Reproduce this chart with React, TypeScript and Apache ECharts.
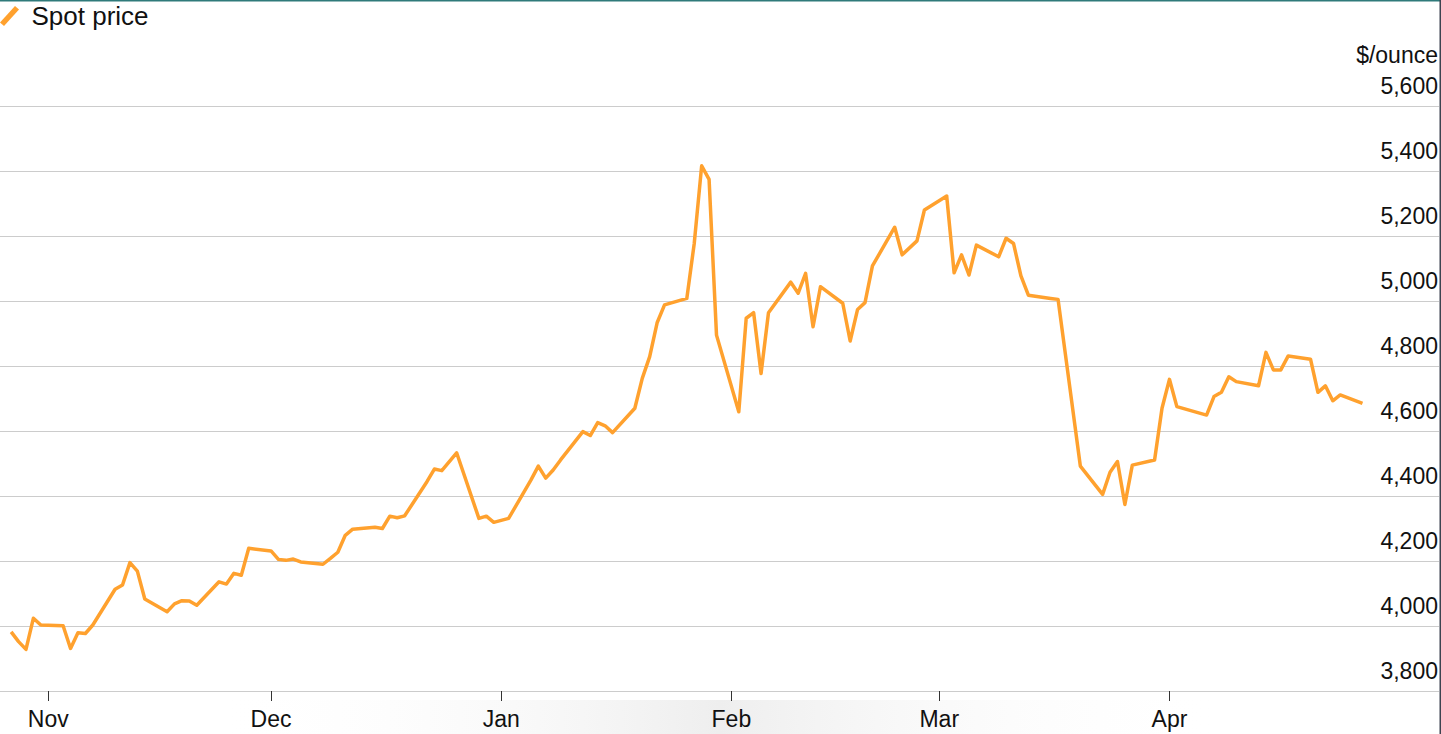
import React, { useEffect, useRef } from "react";
import * as echarts from "echarts";

const seriesName = "Spot price";
const unitLabel = "$/ounce";
const monthNames = ["Jan", "Feb", "Mar", "Apr", "May", "Jun", "Jul", "Aug", "Sep", "Oct", "Nov", "Dec"];

const dates: string[] = [
  "2025-10-27", "2025-10-28", "2025-10-29", "2025-10-30", "2025-10-31",
  "2025-11-03", "2025-11-04", "2025-11-05", "2025-11-06", "2025-11-07",
  "2025-11-10", "2025-11-11", "2025-11-12", "2025-11-13", "2025-11-14",
  "2025-11-17", "2025-11-18", "2025-11-19", "2025-11-20", "2025-11-21",
  "2025-11-24", "2025-11-25", "2025-11-26", "2025-11-27", "2025-11-28",
  "2025-12-01", "2025-12-02", "2025-12-03", "2025-12-04", "2025-12-05",
  "2025-12-08", "2025-12-09", "2025-12-10", "2025-12-11", "2025-12-12",
  "2025-12-15", "2025-12-16", "2025-12-17", "2025-12-18", "2025-12-19",
  "2025-12-22", "2025-12-23", "2025-12-24", "2025-12-26",
  "2025-12-29", "2025-12-30", "2025-12-31", "2026-01-02",
  "2026-01-05", "2026-01-06", "2026-01-07", "2026-01-08", "2026-01-09",
  "2026-01-12", "2026-01-13", "2026-01-14", "2026-01-15", "2026-01-16",
  "2026-01-19", "2026-01-20", "2026-01-21", "2026-01-22", "2026-01-23",
  "2026-01-26", "2026-01-27", "2026-01-28", "2026-01-29", "2026-01-30",
  "2026-02-02", "2026-02-03", "2026-02-04", "2026-02-05", "2026-02-06",
  "2026-02-09", "2026-02-10", "2026-02-11", "2026-02-12", "2026-02-13",
  "2026-02-16", "2026-02-17", "2026-02-18", "2026-02-19", "2026-02-20",
  "2026-02-23", "2026-02-24", "2026-02-26", "2026-02-27",
  "2026-03-02", "2026-03-03", "2026-03-04", "2026-03-05", "2026-03-06",
  "2026-03-09", "2026-03-10", "2026-03-11", "2026-03-12", "2026-03-13",
  "2026-03-16", "2026-03-17", "2026-03-20",
  "2026-03-23", "2026-03-24", "2026-03-25", "2026-03-26", "2026-03-27",
  "2026-03-30", "2026-03-31", "2026-04-01", "2026-04-02",
  "2026-04-06", "2026-04-07", "2026-04-08", "2026-04-09", "2026-04-10",
  "2026-04-13", "2026-04-14", "2026-04-15", "2026-04-16", "2026-04-17",
  "2026-04-20", "2026-04-21", "2026-04-22", "2026-04-23", "2026-04-24",
  "2026-04-27",
];

const prices: number[] = [
  3982, 3952, 3928, 4024, 4003,
  4001, 3931, 3979, 3977, 4003,
  4113, 4126, 4195, 4169, 4083,
  4044, 4068, 4078, 4077, 4064,
  4136, 4129, 4162, 4156, 4239,
  4231, 4205, 4202, 4206, 4197,
  4190, 4208, 4227, 4279, 4298,
  4304, 4300, 4338, 4333, 4339,
  4444, 4483, 4478, 4533,
  4331, 4338, 4319, 4331,
  4449, 4492, 4455, 4480, 4511,
  4598, 4586, 4626, 4616, 4595,
  4670, 4762, 4829, 4933, 4988,
  5008, 5177, 5416, 5374, 4895,
  4659, 4947, 4964, 4777, 4964,
  5058, 5024, 5085, 4921, 5044,
  4993, 4877, 4974, 4995, 5108,
  5227, 5142, 5185, 5280,
  5323, 5087, 5142, 5080, 5172,
  5136, 5193, 5177, 5077, 5018,
  5008, 5005, 4492,
  4405, 4473, 4506, 4374, 4495,
  4511, 4670, 4759, 4675,
  4649, 4706, 4719, 4767, 4752,
  4739, 4842, 4788, 4788, 4831,
  4821, 4719, 4739, 4693, 4711,
  4685,
];

const yMin = 3800;
const yMax = 5600;
const yStep = 200;

const DAY = 86400000;
const PX_PER_DAY = 7.425;
const nov1 = new Date(2025, 10, 1).getTime();
const xMinDays = -6.5;
const xMaxDays = 180.9;
const xMin = nov1 + xMinDays * DAY;
const xMax = nov1 + xMaxDays * DAY;

const FONT = "'Liberation Sans', Arial, Helvetica, sans-serif";

export default function App() {
  const ref = useRef<HTMLDivElement>(null);

  useEffect(() => {
    if (!ref.current) return;
    const chart = echarts.init(ref.current, null, { renderer: "svg" });
    const data = dates.map((d, i) => [d, prices[i]]);
    const plotWidth = (xMaxDays - xMinDays) * PX_PER_DAY;
    chart.setOption({
      animation: false,
      backgroundColor: "#ffffff",
      textStyle: { fontFamily: FONT },
      legend: {
        data: [seriesName],
        left: 0,
        top: 3,
        padding: 0,
        itemWidth: 22,
        itemHeight: 20,
        icon: "path://M0,16.5 L15,0 L19,3.5 L4,20 Z",
        textStyle: {
          fontFamily: FONT,
          fontSize: 26,
          color: "#111111",
          padding: [0, 0, 0, 6],
        },
        selectedMode: false,
      },
      grid: [
        { left: 0, right: 2, top: 106, bottom: 43, containLabel: false, outerBoundsMode: "none" },
        { left: 0, width: plotWidth, top: 106, bottom: 43, containLabel: false, outerBoundsMode: "none" },
      ],
      xAxis: [
        { type: "value", gridIndex: 0, min: 0, max: 1, show: false, axisLine: { onZero: false } },
        {
          type: "time",
          gridIndex: 1,
          min: xMin,
          max: xMax,
          minInterval: 28 * DAY,
          maxInterval: 31 * DAY,
          axisLine: { show: false, onZero: false },
          axisTick: { show: true, length: 10, lineStyle: { color: "#333333", width: 1 } },
          splitLine: { show: false },
          axisLabel: {
            fontFamily: FONT,
            fontSize: 23,
            color: "#111111",
            margin: 16,
            hideOverlap: false,
            formatter: (v: number) => monthNames[new Date(v).getMonth()],
          },
        },
      ],
      yAxis: [
        {
          type: "value",
          gridIndex: 0,
          position: "right",
          min: yMin,
          max: yMax,
          interval: yStep,
          name: unitLabel,
          nameLocation: "end",
          nameGap: 40,
          nameTextStyle: {
            fontFamily: FONT,
            fontSize: 23,
            color: "#111111",
            align: "right",
            verticalAlign: "middle",
            padding: [0, 1, 0, 0],
          },
          axisLine: { show: false, onZero: false },
          axisTick: { show: false },
          splitLine: { show: true, lineStyle: { color: "#cccccc", width: 1 } },
          axisLabel: {
            inside: true,
            margin: 1,
            fontFamily: FONT,
            fontSize: 23,
            color: "#111111",
            align: "right",
            verticalAlign: "bottom",
            lineHeight: 40,
            formatter: (v: number) => v.toLocaleString("en-US"),
          },
        },
        {
          type: "value",
          gridIndex: 1,
          position: "left",
          min: yMin,
          max: yMax,
          interval: yStep,
          show: false,
          axisLine: { onZero: false },
          splitLine: { show: false },
        },
      ],
      graphic: [
        {
          type: "rect",
          z: -1,
          silent: true,
          shape: { x: 0, y: 700, width: 1439, height: 34 },
          style: {
            fill: {
              type: "linear",
              x: 0,
              y: 0,
              x2: 1,
              y2: 0,
              colorStops: [
                { offset: 0, color: "rgba(255,255,255,0)" },
                { offset: 0.15, color: "rgba(255,255,255,0)" },
                { offset: 0.5, color: "rgba(238,238,238,1)" },
                { offset: 0.85, color: "rgba(255,255,255,0)" },
                { offset: 1, color: "rgba(255,255,255,0)" },
              ],
            },
          },
        },
        {
          type: "rect",
          silent: true,
          shape: { x: 0, y: 0, width: 1440, height: 1.5 },
          style: { fill: "#2f7a7a" },
        },
        {
          type: "rect",
          silent: true,
          shape: { x: 1439.5, y: 0, width: 1.5, height: 734 },
          style: { fill: "#3d4350" },
        },
      ],
      series: [
        {
          name: seriesName,
          type: "line",
          xAxisIndex: 1,
          yAxisIndex: 1,
          data,
          showSymbol: false,
          symbol: "none",
          lineStyle: { color: "#ffa12e", width: 3.5, join: "round" },
          itemStyle: { color: "#ffa12e" },
        },
      ],
    });
    return () => chart.dispose();
  }, []);

  return (
    <div
      ref={ref}
      style={{ position: "fixed", left: 0, top: 0, width: 1441, height: 734, background: "#ffffff" }}
    />
  );
}
